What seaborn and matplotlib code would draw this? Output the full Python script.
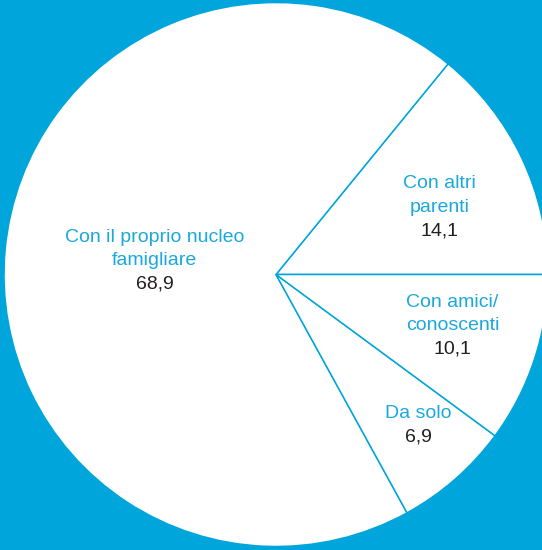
import matplotlib
matplotlib.use("Agg")
import matplotlib.pyplot as plt
import seaborn as sns

# dati (percentuali)
labels = ["Con altri\nparenti", "Con il proprio nucleo\nfamigliare", "Da solo", "Con amici/\nconoscenti"]
values = [14.1, 68.9, 6.9, 10.1]
value_labels = ["14,1", "68,9", "6,9", "10,1"]

BLUE = "#00a6db"
TEXT_BLUE = "#1aa8dd"
DARK = "#231f20"

sns.set_theme(style="white")
plt.rcParams["font.family"] = ["Liberation Sans", "DejaVu Sans"]

fig = plt.figure(figsize=(5.42, 5.5), dpi=100, facecolor=BLUE)
ax = fig.add_axes([0, 0, 1, 1])
ax.set_facecolor(BLUE)

ax.pie(values, colors=["white"] * len(values), startangle=0, counterclock=True,
       radius=1, wedgeprops=dict(edgecolor=BLUE, linewidth=1.1))

# posizione in pixel -> coordinate dati (centro 276,274.5, raggio 272 px)
def px(x, y):
    return (x - 276) / 272, (274.5 - y) / 272

# centro x e baseline della prima riga per ogni etichetta
label_pos = [(439.5, 188.3), (154.7, 241.7), (418, 418.3), (452.4, 306.7)]
step = 23.5

for lab, val, (x, y) in zip(labels, value_labels, label_pos):
    lines = lab.split("\n")
    for i, line in enumerate(lines):
        ax.text(*px(x, y + i * step), line, color=TEXT_BLUE, fontsize=14,
                ha="center", va="baseline")
    ax.text(*px(x, y + len(lines) * step), val, color=DARK, fontsize=14,
            ha="center", va="baseline")

ax.set_xlim(-276 / 272, (542 - 276) / 272)
ax.set_ylim(-(550 - 274.5) / 272, 274.5 / 272)
ax.set_aspect("auto")
ax.axis("off")

fig.savefig("out.png", dpi=100, facecolor=BLUE)
